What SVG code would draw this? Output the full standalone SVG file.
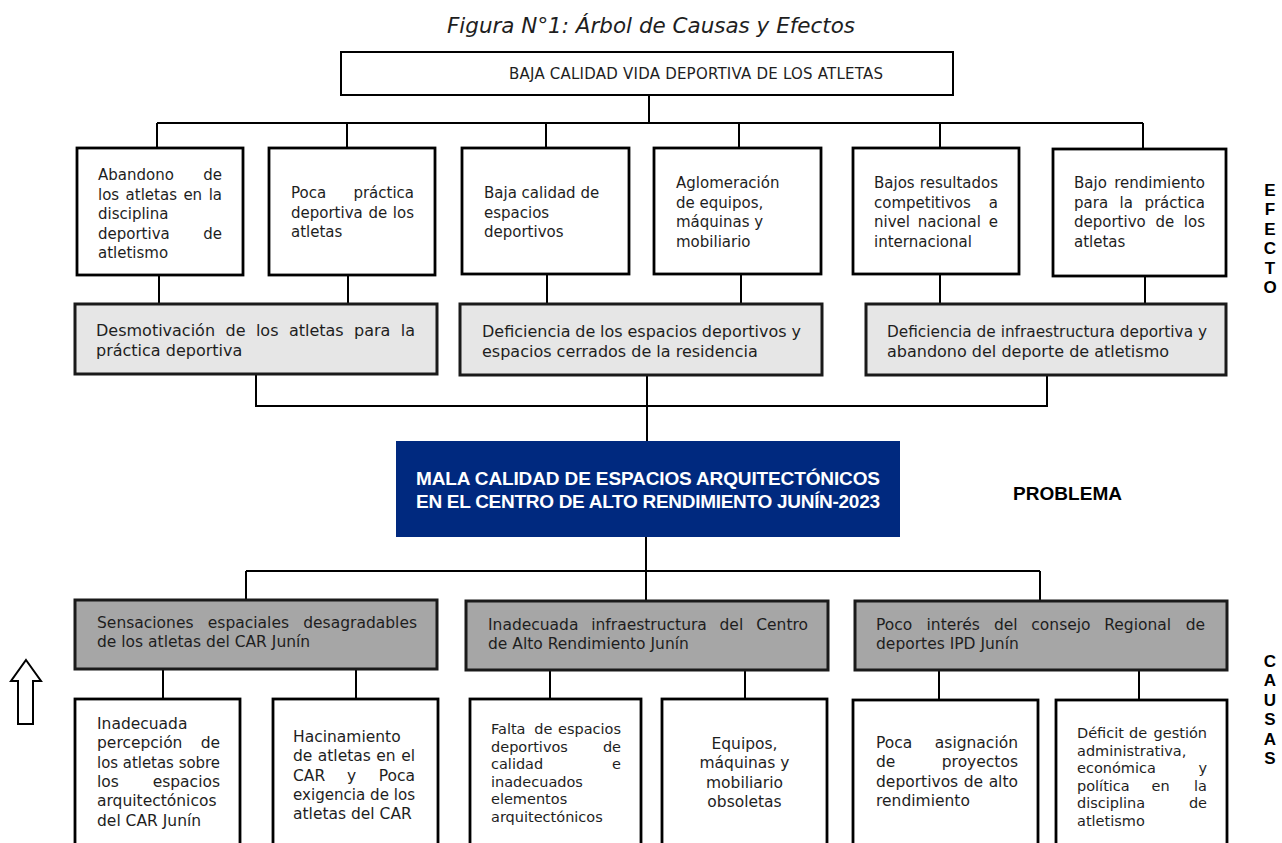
<svg xmlns="http://www.w3.org/2000/svg" width="1282" height="843" viewBox="0 0 1282 843">
<style>
.t{font-family:"DejaVu Sans","Liberation Sans",sans-serif;fill:#1e1e1e}
.e{font-size:15px}
.m{font-size:16px}
.s{font-size:15.5px}
.cs{font-size:14.5px}
.r{text-anchor:end}
.box{fill:#fff;stroke:#000;stroke-width:2.8}
.top{fill:#fff;stroke:#000;stroke-width:2}
.mid{fill:#e6e6e6;stroke:#1a1a1a;stroke-width:3}
.cau{fill:#a6a6a6;stroke:#1a1a1a;stroke-width:3}
.ln{stroke:#000;stroke-width:2;fill:none}
.side{font-family:"Liberation Sans",Arial,sans-serif;font-weight:bold;font-size:17px;text-anchor:middle;fill:#000}
.bold{font-family:"Liberation Sans",Arial,sans-serif;font-weight:bold;font-size:19px}
</style>
<rect width="1282" height="843" fill="#fff"/>
<text id="title" class="t" x="447" y="33" font-size="20.5" font-style="italic" textLength="408" lengthAdjust="spacingAndGlyphs">Figura N°1: Árbol de Causas y Efectos</text>

<g id="connectors">
<path class="ln" d="M649 95V123M157 123H1143M157 123V148M347 123V148M546 123V148M739 123V148M940 123V148M1143 123V149M159 275V304M348 275V304M547 274V304M741 274V304M940 274V304M1145 276V304M256 374V406H1047V375M647 375V441M646 537V601M246 571H1040M246 571V600M1040 571V601M163 669V699M356 669V699M550 670V699M745 670V699M939 670V700M1139 670V700"/>
</g>

<g id="efecto-principal">
<rect class="top" x="341" y="52" width="612" height="43"/>
<text class="t" x="509" y="79" font-size="15" textLength="374">BAJA CALIDAD VIDA DEPORTIVA DE LOS ATLETAS</text>
</g>

<g id="efecto-1">
<rect class="box" x="77" y="148" width="166" height="127"/>
<text class="t e"><tspan x="98" y="180">Abandono</tspan><tspan class="r" x="222" y="180">de</tspan><tspan x="98" y="199.5">los</tspan><tspan x="125.6" y="199.5">atletas</tspan><tspan x="183.4" y="199.5">en</tspan><tspan class="r" x="222" y="199.5">la</tspan><tspan x="98" y="219">disciplina</tspan><tspan x="98" y="238.5">deportiva</tspan><tspan class="r" x="222" y="238.5">de</tspan><tspan x="98" y="258">atletismo</tspan></text>
</g>
<g id="efecto-2">
<rect class="box" x="269" y="148" width="166" height="127"/>
<text class="t e"><tspan x="291" y="198">Poca</tspan><tspan class="r" x="414" y="198">práctica</tspan><tspan x="291" y="217.5">deportiva</tspan><tspan x="368.4" y="217.5">de</tspan><tspan class="r" x="414" y="217.5">los</tspan><tspan x="291" y="237">atletas</tspan></text>
</g>
<g id="efecto-3">
<rect class="box" x="462" y="148" width="167" height="126"/>
<text class="t e"><tspan x="484" y="198">Baja calidad de</tspan><tspan x="484" y="217.5">espacios</tspan><tspan x="484" y="237">deportivos</tspan></text>
</g>
<g id="efecto-4">
<rect class="box" x="654" y="148" width="167" height="126"/>
<text class="t e"><tspan x="676" y="188">Aglomeración</tspan><tspan x="676" y="207.5">de equipos,</tspan><tspan x="676" y="227">máquinas y</tspan><tspan x="676" y="246.5">mobiliario</tspan></text>
</g>
<g id="efecto-5">
<rect class="box" x="853" y="148" width="166" height="126"/>
<text class="t e"><tspan x="874" y="188">Bajos</tspan><tspan class="r" x="998" y="188">resultados</tspan><tspan x="874" y="207.5">competitivos</tspan><tspan class="r" x="998" y="207.5">a</tspan><tspan x="874" y="227">nivel</tspan><tspan x="917.8" y="227">nacional</tspan><tspan class="r" x="998" y="227">e</tspan><tspan x="874" y="246.5">internacional</tspan></text>
</g>
<g id="efecto-6">
<rect class="box" x="1053" y="149" width="173" height="127"/>
<text class="t e"><tspan x="1074" y="188">Bajo</tspan><tspan class="r" x="1205" y="188">rendimiento</tspan><tspan x="1074" y="207.5">para</tspan><tspan x="1119.6" y="207.5">la</tspan><tspan class="r" x="1205" y="207.5">práctica</tspan><tspan x="1074" y="227">deportivo</tspan><tspan x="1155.4" y="227">de</tspan><tspan class="r" x="1205" y="227">los</tspan><tspan x="1074" y="246.5">atletas</tspan></text>
</g>

<g id="efecto-intermedio-1">
<rect class="mid" x="75" y="304" width="362" height="70"/>
<text class="t m"><tspan x="96" y="336">Desmotivación</tspan><tspan x="225.5" y="336">de</tspan><tspan x="255.9" y="336">los</tspan><tspan x="288.9" y="336">atletas</tspan><tspan x="354" y="336">para</tspan><tspan class="r" x="415" y="336">la</tspan><tspan x="96" y="356">práctica deportiva</tspan></text>
</g>
<g id="efecto-intermedio-2">
<rect class="mid" x="460" y="304" width="362" height="71"/>
<text class="t m"><tspan x="482" y="337">Deficiencia</tspan><tspan x="575.3" y="337">de</tspan><tspan x="600.1" y="337">los</tspan><tspan x="627.5" y="337">espacios</tspan><tspan x="701.8" y="337">deportivos</tspan><tspan class="r" x="801" y="337">y</tspan><tspan x="482" y="357">espacios cerrados de la residencia</tspan></text>
</g>
<g id="efecto-intermedio-3">
<rect class="mid" x="866" y="304" width="360" height="71"/>
<text class="t m" x="887" y="337" textLength="320" lengthAdjust="spacingAndGlyphs">Deficiencia de infraestructura deportiva y</text>
<text class="t m" x="887" y="357">abandono del deporte de atletismo</text>
</g>

<g id="problema">
<rect x="396" y="441" width="504" height="96" fill="#00297f"/>
<text class="bold" fill="#fff" x="416" y="485" textLength="464">MALA CALIDAD DE ESPACIOS ARQUITECTÓNICOS</text>
<text class="bold" fill="#fff" x="416" y="508" textLength="464">EN EL CENTRO DE ALTO RENDIMIENTO JUNÍN-2023</text>
</g>
<text id="label-problema" class="bold" fill="#000" x="1013" y="500" textLength="109">PROBLEMA</text>

<g id="causa-1">
<rect class="cau" x="75" y="600" width="362" height="69"/>
<text class="t s"><tspan x="97" y="628">Sensaciones</tspan><tspan x="207.8" y="628">espaciales</tspan><tspan class="r" x="417" y="628">desagradables</tspan><tspan x="97" y="647">de los atletas del CAR Junín</tspan></text>
</g>
<g id="causa-2">
<rect class="cau" x="466" y="601" width="362" height="69"/>
<text class="t s"><tspan x="488" y="630">Inadecuada</tspan><tspan x="591.2" y="630">infraestructura</tspan><tspan x="719.5" y="630">del</tspan><tspan class="r" x="808" y="630">Centro</tspan><tspan x="488" y="649">de Alto Rendimiento Junín</tspan></text>
</g>
<g id="causa-3">
<rect class="cau" x="855" y="601" width="372" height="69"/>
<text class="t s"><tspan x="876" y="630">Poco</tspan><tspan x="926.5" y="630">interés</tspan><tspan x="993.9" y="630">del</tspan><tspan x="1031.3" y="630">consejo</tspan><tspan x="1104.2" y="630">Regional</tspan><tspan class="r" x="1205" y="630">de</tspan><tspan x="876" y="649">deportes IPD Junín</tspan></text>
</g>

<g id="subcausa-1">
<rect class="box" x="75" y="699" width="165" height="160"/>
<text class="t s"><tspan x="97" y="729">Inadecuada</tspan><tspan x="97" y="748.3">percepción</tspan><tspan class="r" x="220" y="748.3">de</tspan></text>
<text class="t s" x="97" y="767.6" textLength="123" lengthAdjust="spacingAndGlyphs">los atletas sobre</text>
<text class="t s"><tspan x="97" y="786.9">los</tspan><tspan class="r" x="220" y="786.9">espacios</tspan><tspan x="97" y="806.2">arquitectónicos</tspan><tspan x="97" y="825.5">del CAR Junín</tspan></text>
</g>
<g id="subcausa-2">
<rect class="box" x="273" y="699" width="165" height="160"/>
<text class="t s"><tspan x="293" y="742">Hacinamiento</tspan><tspan x="293" y="761.3">de</tspan><tspan x="317.8" y="761.3">atletas</tspan><tspan x="376.3" y="761.3">en</tspan><tspan class="r" x="415" y="761.3">el</tspan><tspan x="293" y="780.6">CAR</tspan><tspan x="347.1" y="780.6">y</tspan><tspan class="r" x="415" y="780.6">Poca</tspan></text>
<text class="t s" x="293" y="799.9" textLength="122" lengthAdjust="spacingAndGlyphs">exigencia de los</text>
<text class="t s" x="293" y="819.2">atletas del CAR</text>
</g>
<g id="subcausa-3">
<rect class="box" x="470" y="699" width="171" height="160"/>
<text class="t cs"><tspan x="491" y="734">Falta</tspan><tspan x="534.2" y="734">de</tspan><tspan class="r" x="621" y="734">espacios</tspan><tspan x="491" y="751.5">deportivos</tspan><tspan class="r" x="621" y="751.5">de</tspan><tspan x="491" y="769">calidad</tspan><tspan class="r" x="621" y="769">e</tspan><tspan x="491" y="786.5">inadecuados</tspan><tspan x="491" y="804">elementos</tspan><tspan x="491" y="821.5">arquitectónicos</tspan></text>
</g>
<g id="subcausa-4">
<rect class="box" x="662" y="699" width="165" height="160"/>
<text class="t s" text-anchor="middle"><tspan x="744.5" y="749">Equipos,</tspan><tspan x="744.5" y="768.3">máquinas y</tspan><tspan x="744.5" y="787.6">mobiliario</tspan><tspan x="744.5" y="806.9">obsoletas</tspan></text>
</g>
<g id="subcausa-5">
<rect class="box" x="853" y="700" width="185" height="160"/>
<text class="t s"><tspan x="876" y="748">Poca</tspan><tspan class="r" x="1018" y="748">asignación</tspan><tspan x="876" y="767.3">de</tspan><tspan class="r" x="1018" y="767.3">proyectos</tspan><tspan x="876" y="786.6">deportivos</tspan><tspan x="963.7" y="786.6">de</tspan><tspan class="r" x="1018" y="786.6">alto</tspan><tspan x="876" y="805.9">rendimiento</tspan></text>
</g>
<g id="subcausa-6">
<rect class="box" x="1056" y="700" width="171" height="160"/>
<text class="t cs"><tspan x="1077" y="738">Déficit</tspan><tspan x="1129" y="738">de</tspan><tspan class="r" x="1207" y="738">gestión</tspan><tspan x="1077" y="755.5">administrativa,</tspan><tspan x="1077" y="773">económica</tspan><tspan class="r" x="1207" y="773">y</tspan><tspan x="1077" y="790.5">política</tspan><tspan x="1151.5" y="790.5">en</tspan><tspan class="r" x="1207" y="790.5">la</tspan><tspan x="1077" y="808">disciplina</tspan><tspan class="r" x="1207" y="808">de</tspan><tspan x="1077" y="825.5">atletismo</tspan></text>
</g>

<g id="label-efecto">
<text class="side"><tspan x="1270" y="196">E</tspan><tspan x="1270" y="215.4">F</tspan><tspan x="1270" y="234.8">E</tspan><tspan x="1270" y="254.2">C</tspan><tspan x="1270" y="273.6">T</tspan><tspan x="1270" y="293">O</tspan></text>
</g>
<g id="label-causas">
<text class="side"><tspan x="1270" y="667">C</tspan><tspan x="1270" y="686.4">A</tspan><tspan x="1270" y="705.8">U</tspan><tspan x="1270" y="725.2">S</tspan><tspan x="1270" y="744.6">A</tspan><tspan x="1270" y="764">S</tspan></text>
</g>
<g id="flecha">
<polygon points="26,660 41,681 33,681 33,724 18,724 18,681 11,681" fill="#fff" stroke="#000" stroke-width="2" stroke-linejoin="miter"/>
</g>
</svg>
